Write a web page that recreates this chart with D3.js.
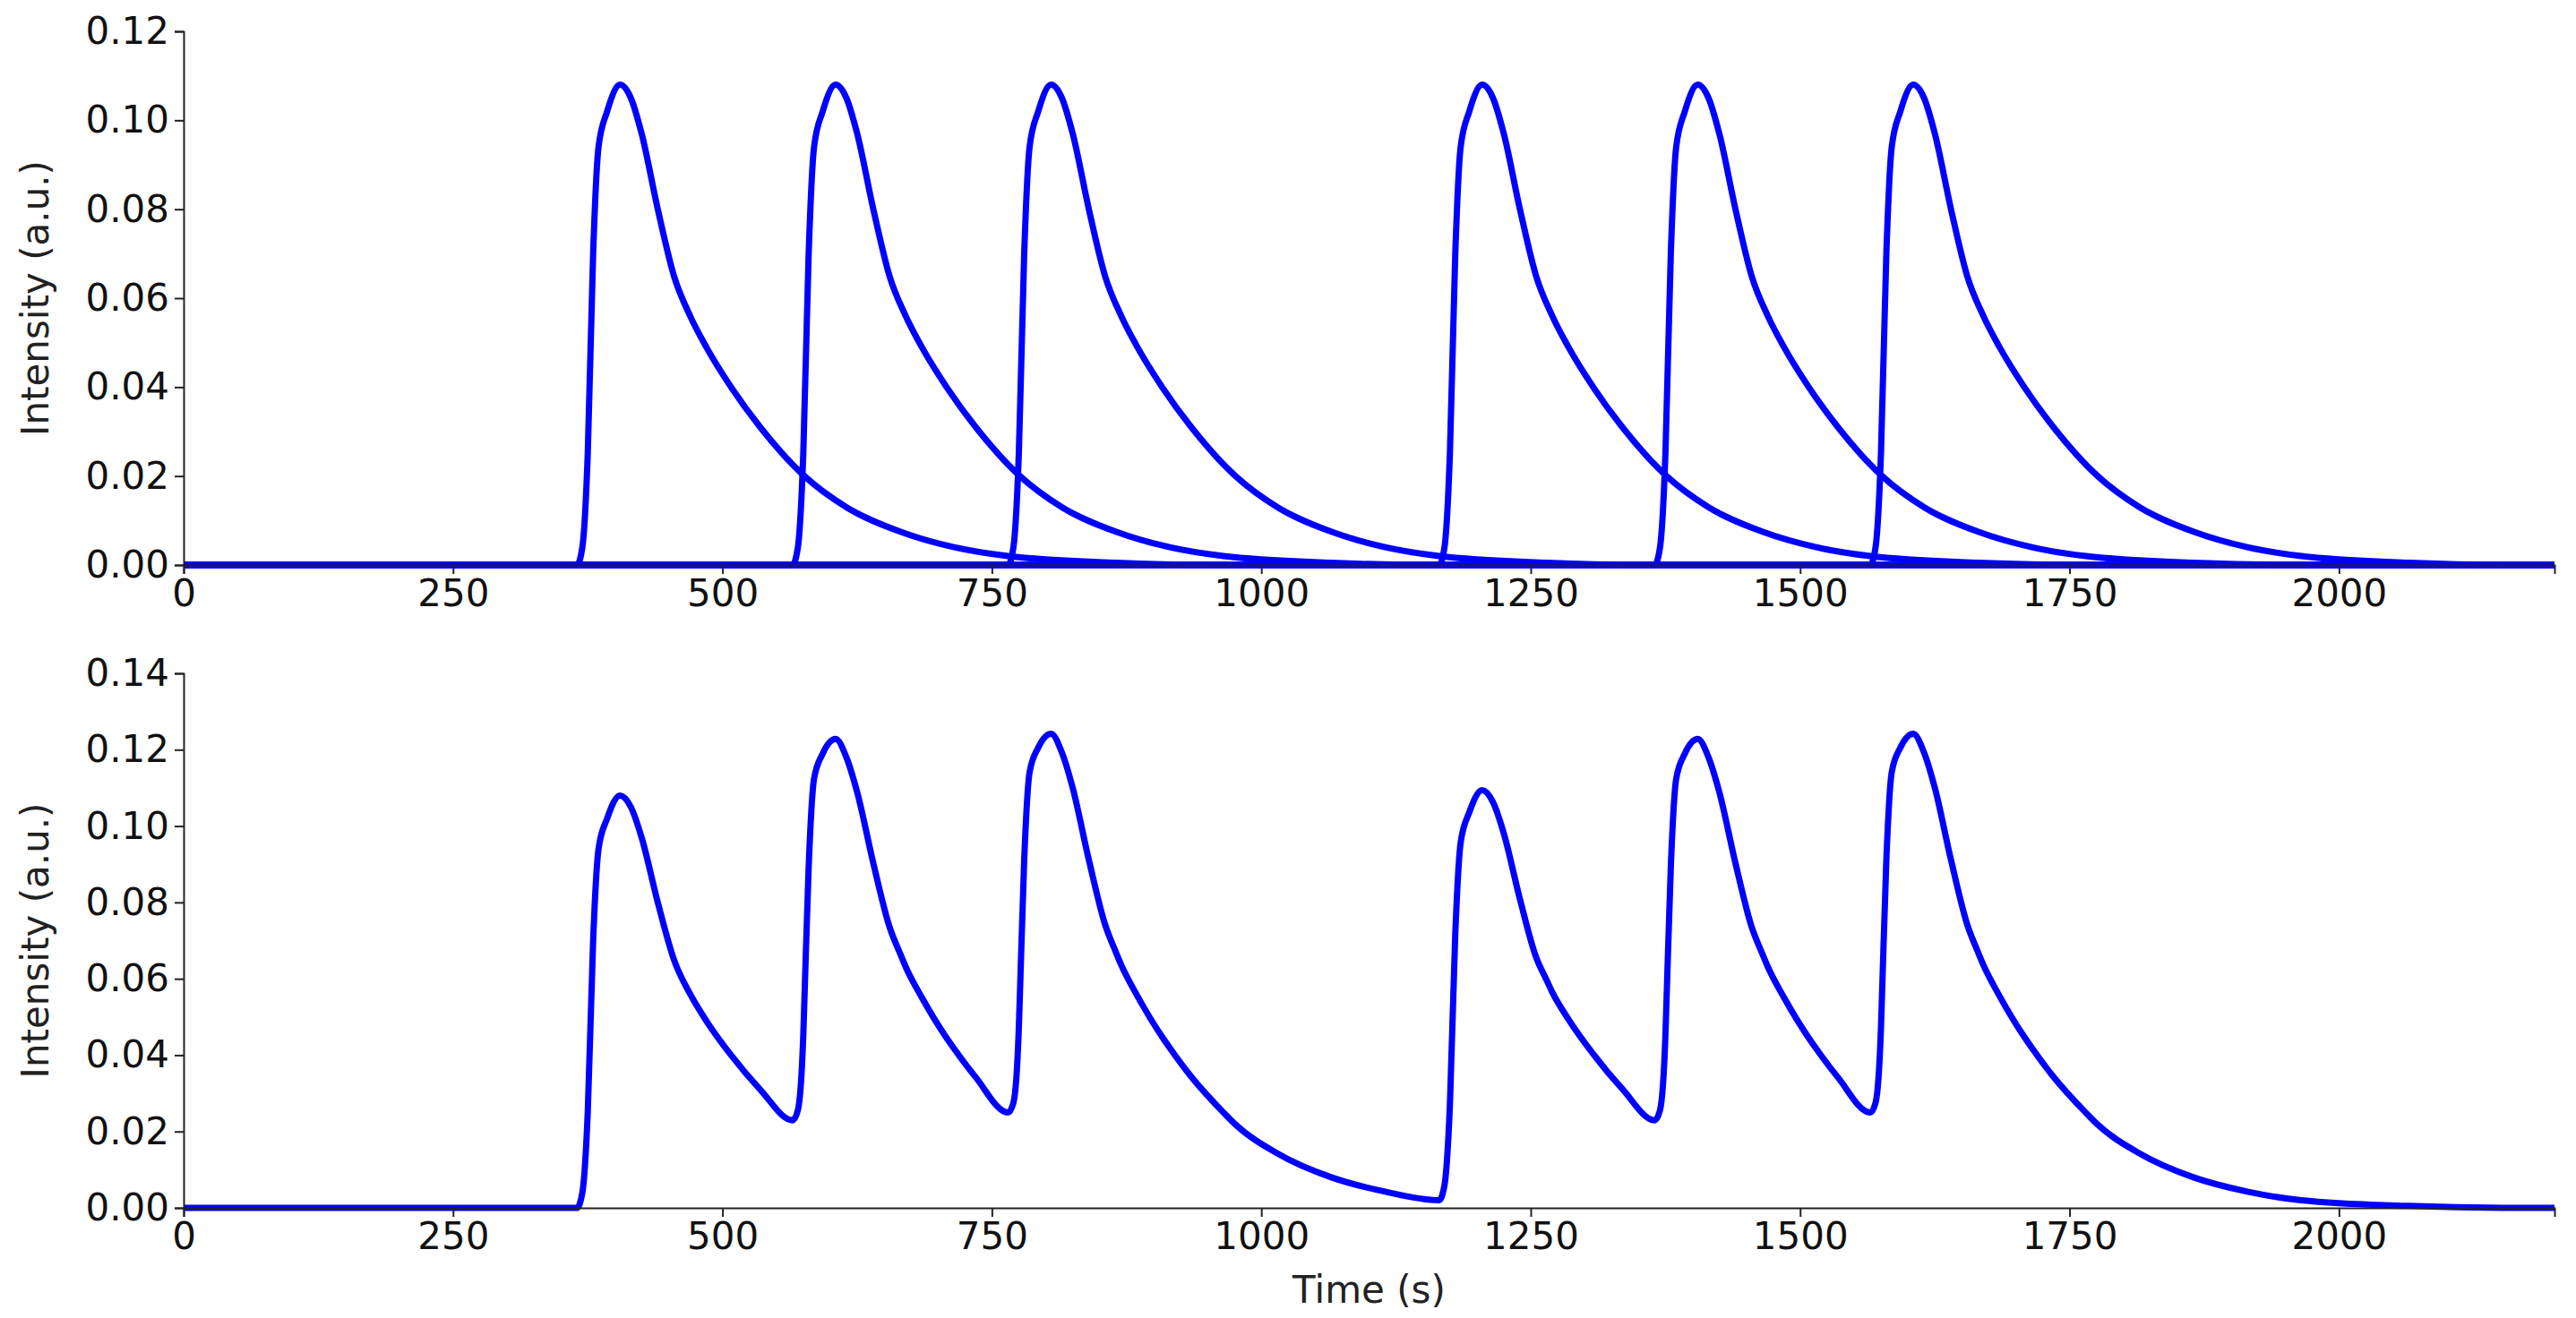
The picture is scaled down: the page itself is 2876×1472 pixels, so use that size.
<!DOCTYPE html>
<html><head><meta charset="utf-8">
<script src="https://cdn.jsdelivr.net/npm/d3@7"></script>
<style>body{margin:0;background:#fff}text{font-family:"DejaVu Sans",sans-serif}</style>
</head><body><svg id="c" width="2876" height="1472"></svg>
<script>
// Pulse shape: time after onset (s) and intensity
const pulseDt  = [0,5,10,15,20,28,40,50,60,75,90,105,120,143,170,211,250,300,350,400,500,600];
const pulseVal = [0,0.004,0.025,0.07,0.094,0.102,0.108,0.105,0.097,0.08,0.065,0.056,0.049,0.04,0.031,0.02,0.013,0.0075,0.004,0.002,0.0005,0];
const onsets = [365,565,765,1165,1365,1565];
const xTicks = [0,250,500,750,1000,1250,1500,1750,2000];
const yTicksTop = [0,0.02,0.04,0.06,0.08,0.10,0.12];
const yTicksBot = [0,0.02,0.04,0.06,0.08,0.10,0.12,0.14];
const xMax = 2200;

function pulseAt(dt){
  if(dt<=0||dt>=600) return 0;
  for(let i=1;i<pulseDt.length;i++){ if(dt<=pulseDt[i]){const f=(dt-pulseDt[i-1])/(pulseDt[i]-pulseDt[i-1]);return pulseVal[i-1]+f*(pulseVal[i]-pulseVal[i-1]);} }
  return 0;
}
const svg=d3.select("#c");
const x=d3.scaleLinear().domain([0,xMax]).range([205,2852]);
const panels=[{y0:35,y1:631,max:0.12,ticks:yTicksTop},{y0:752,y1:1349,max:0.14,ticks:yTicksBot}];
const color="#0000ff";
panels.forEach((p,pi)=>{
  const y=d3.scaleLinear().domain([0,p.max]).range([p.y1,p.y0]);
  const line=d3.line().x(d=>x(d[0])).y(d=>y(d[1])).curve(d3.curveMonotoneX);
  const g=svg.append("g");
  if(pi===0){
    onsets.forEach(t0=>{
      const pts=[[0,0]].concat(pulseDt.map((d,i)=>[t0+d,pulseVal[i]])).concat([[xMax,0]]);
      g.append("path").attr("d",line(pts)).attr("fill","none").attr("stroke",color).attr("stroke-width",7);
    });
  } else {
    let ts=new Set([0,xMax]);
    onsets.forEach(t0=>pulseDt.forEach(d=>ts.add(t0+d)));
    ts=[...ts].filter(t=>t<=xMax).sort((a,b)=>a-b);
    const pts=ts.map(t=>[t,onsets.reduce((s,t0)=>s+pulseAt(t-t0),0)]);
    g.append("path").attr("d",line(pts)).attr("fill","none").attr("stroke",color).attr("stroke-width",7).attr("stroke-linejoin","round");
  }
  const ax=svg.append("g").attr("transform",`translate(0,${p.y1})`).call(d3.axisBottom(x).tickValues(xTicks).tickSize(10).tickPadding(6).tickFormat(d3.format("d")));
  const ay=svg.append("g").attr("transform",`translate(205,0)`).call(d3.axisLeft(y).tickValues(p.ticks).tickSize(10).tickPadding(6).tickFormat(d3.format(".2f")));
  [ax,ay].forEach(a=>{a.selectAll("text").attr("font-size",42).attr("fill","#111");a.selectAll("path,line").attr("stroke","#222").attr("stroke-width",2);});
  svg.append("text").attr("transform",`translate(54,${(p.y0+p.y1)/2}) rotate(-90)`).attr("text-anchor","middle").attr("font-size",42).attr("fill","#222").text("Intensity (a.u.)");
});
svg.append("text").attr("x",x(xMax/2)).attr("y",1455).attr("text-anchor","middle").attr("font-size",42).attr("fill","#222").text("Time (s)");
</script></body></html>
